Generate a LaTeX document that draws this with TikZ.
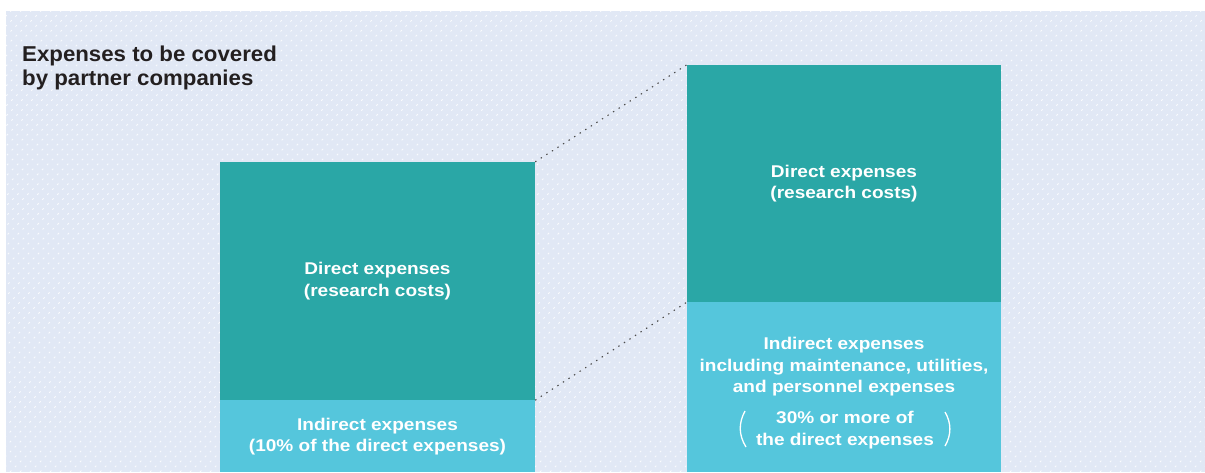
\documentclass[tikz,border=0pt]{standalone}
\usepackage{fontspec}
\setmainfont{Liberation Sans}
\newfontfamily\boxfont[FakeStretch=1.12]{Liberation Sans}
\newfontfamily\headfont[FakeStretch=1.035]{Liberation Sans}
\usetikzlibrary{positioning}

\definecolor{bgblue}{RGB}{225,232,245}
\definecolor{directteal}{RGB}{42,167,166}
\definecolor{indirectcyan}{RGB}{85,198,220}
\definecolor{titleink}{RGB}{35,31,32}

\tikzset{
  costbox/.style={minimum width=315pt, inner sep=0pt, align=center, text=white,
    font=\boxfont\bfseries\fontsize{17}{21.5}\selectfont},
  direct/.style={costbox, fill=directteal},
  indirect/.style={costbox, fill=indirectcyan},
  costtext/.style={align=center, text=white, inner sep=0pt,
    font=\boxfont\bfseries\fontsize{17}{21.5}\selectfont},
  zoomline/.style={line width=1.1pt, black!70, dash pattern=on 1.4pt off 5.2pt},
  paren/.style={white, line width=1.3pt}
}

\begin{document}
\begin{tikzpicture}[x=1pt,y=-1pt]
  \useasboundingbox (0,0) rectangle (1205,472);
  % hatched backdrop
  \fill[bgblue] (6,11) rectangle (1205,472);
  \begin{scope}
    \clip (6,11) rectangle (1205,472);
    \foreach \x in {-460,-450,...,1200}
      \draw[white, opacity=0.85, line width=0.8pt, dash pattern=on 2pt off 5pt] (\x,472) -- ++(461,-461);
  \end{scope}

  \node[anchor=north west, align=left, inner sep=0pt, text=titleink,
    font=\headfont\bfseries\fontsize{21.5}{24}\selectfont] (title) at (22,46)
    {Expenses to be covered\\by partner companies};

  % left column
  \node[direct, minimum height=238pt] (ldirect) at (377.5,281) {Direct expenses\\(research costs)};
  \node[indirect, minimum height=72pt, below=0pt of ldirect] (lindirect)
    {Indirect expenses\\(10\% of the direct expenses)};

  % right column
  \node[direct, minimum width=314pt, minimum height=237pt] (rdirect) at (844,183.5)
    {Direct expenses\\(research costs)};
  \node[indirect, minimum width=314pt, minimum height=170pt, below=0pt of rdirect] (rindirect) {};
  \node[costtext] (rnote) at (844,367)
    {Indirect expenses\\including maintenance, utilities,\\and personnel expenses};
  \node[costtext] (rshare) at (845,430) {30\% or more of\\the direct expenses};
  \draw[paren] (745,411) .. controls (738.5,423) and (738.5,435) .. (746,447);
  \draw[paren] (945,412) .. controls (951.5,423) and (951.5,435) .. (945,446);

  \draw[zoomline] (ldirect.north east) -- (rdirect.north west);
  \draw[zoomline] (ldirect.south east) -- (rdirect.south west);
\end{tikzpicture}
\end{document}
